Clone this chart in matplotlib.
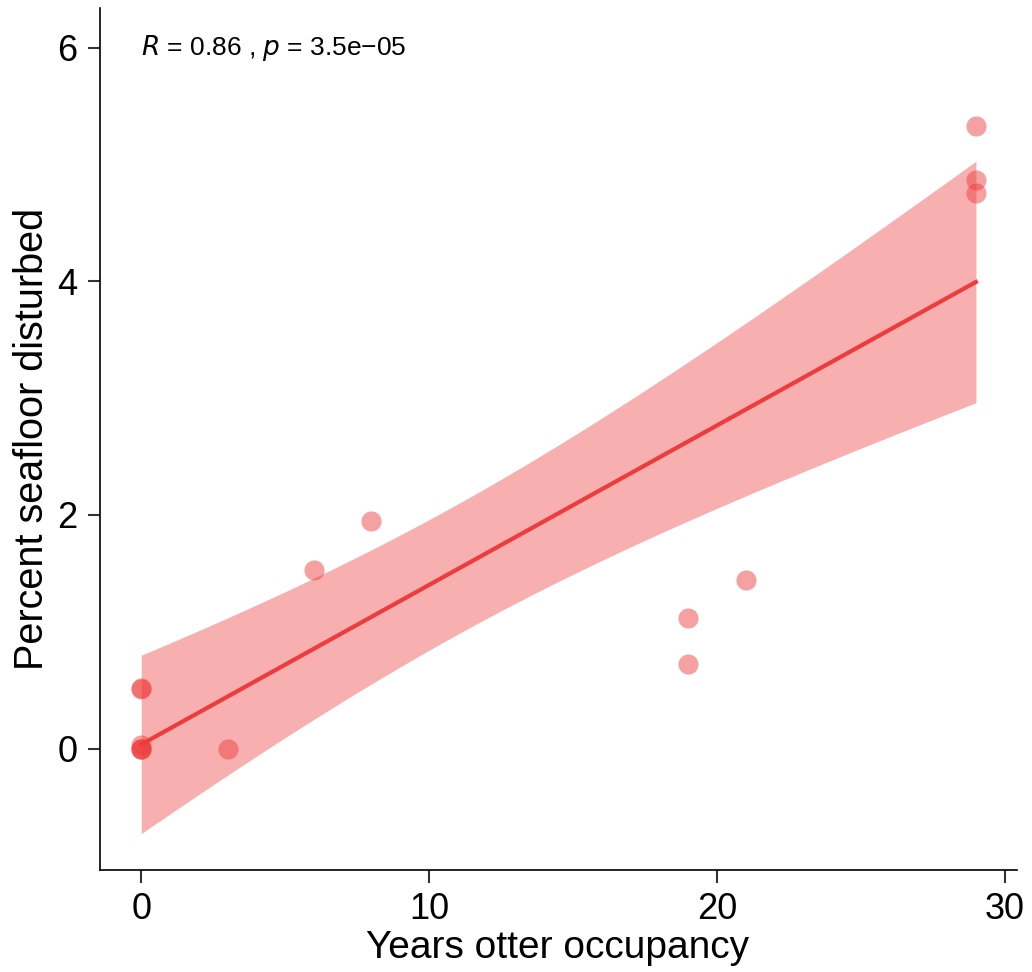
import numpy as np
import matplotlib
matplotlib.use("Agg")
import matplotlib.pyplot as plt

plt.rcParams['font.family'] = ['Liberation Sans', 'DejaVu Sans']

# years of sea otter occupancy vs. percent of seafloor disturbed
years = [0, 0, 0, 0, 0, 0, 3, 6, 8, 19, 19, 21, 29, 29, 29]
disturbed = [0.52, 0.51, 0.03, 0.0, 0.0, 0.0, 0.0, 1.53, 1.95, 1.12, 0.72, 1.44, 5.33, 4.87, 4.76]

x = np.array(years, dtype=float)
y = np.array(disturbed, dtype=float)
n = len(x)

# linear fit with 95% confidence band
slope, intercept = np.polyfit(x, y, 1)
resid = y - (slope * x + intercept)
s = np.sqrt(np.sum(resid ** 2) / (n - 2))
t_crit = 2.160  # t(0.975, df=13)
xs = np.linspace(x.min(), x.max(), 100)
fit = slope * xs + intercept
se = s * np.sqrt(1 / n + (xs - x.mean()) ** 2 / np.sum((x - x.mean()) ** 2))

fig = plt.figure(figsize=(10.32, 9.72), dpi=100)
ax = fig.add_axes([99.5 / 1032, 1 - 870 / 972, 917 / 1032, 862 / 972])

red = "#EE3B3B"
ax.fill_between(xs, fit - t_crit * se, fit + t_crit * se, color="#F7AFAF", lw=0, zorder=1)
ax.plot(xs, fit, color=red, lw=3, zorder=2)
ax.scatter(x, y, s=210, color=red, alpha=0.48, lw=0, zorder=3)

ax.set_xlim(-1.45, 30.41)
ax.set_ylim(-1.04, 6.34)
ax.set_xticks([0, 10, 20, 30])
ax.set_yticks([0, 2, 4, 6])

for side in ["top", "right"]:
    ax.spines[side].set_visible(False)
for side in ["left", "bottom"]:
    ax.spines[side].set_linewidth(1.2)
ax.tick_params(direction="out", length=9, width=1.5, color="#333333",
               labelsize=26, pad=7)

ax.set_xlabel("Years otter occupancy", fontsize=28, labelpad=2)
ax.set_ylabel("Percent seafloor disturbed", fontsize=28.5, labelpad=4)

r = np.corrcoef(x, y)[0, 1]
ax.text(0, 6.0, "$R$ = %.2f , $p$ = 3.5e\u221205" % r, fontsize=19, va="center", ha="left")

fig.savefig("out.png", dpi=100)
